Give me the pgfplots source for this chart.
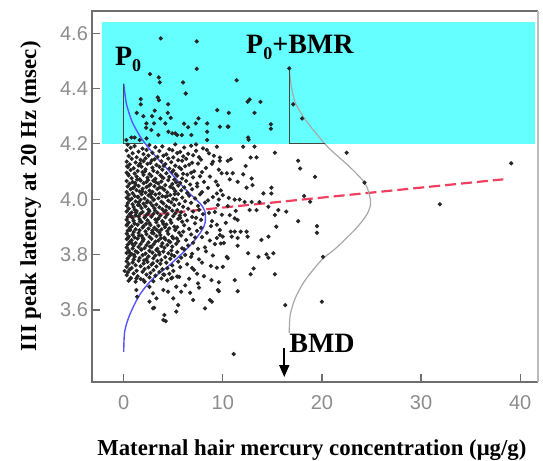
\documentclass[border=0pt]{standalone}
\usepackage{fontspec}
\setmainfont{Liberation Serif}
\newfontfamily\arialfont{Liberation Sans}
\usepackage{pgfplots}
\pgfplotsset{compat=1.18}
\usetikzlibrary{arrows.meta}
\definecolor{cyanbox}{HTML}{66FFFF}
\definecolor{blueline}{RGB}{85,85,255}
\definecolor{redline}{HTML}{F04060}
\definecolor{grayline}{HTML}{A8A8A8}
\definecolor{triline}{HTML}{404840}
\definecolor{framegray}{HTML}{6E6E6E}
\definecolor{framelight}{HTML}{BBBBBB}
\definecolor{labgray}{HTML}{8C8C8C}
\newcommand\sub[1]{\raisebox{-3pt}{\fontsize{9}{9}\selectfont #1}}

\begin{document}
\begin{tikzpicture}
\begin{axis}[
  at={(46pt,39.5pt)}, anchor=south west,
  scale only axis, width=223pt, height=185.5pt,
  xmin=-3.2, xmax=41.8, ymin=3.34, ymax=4.68,
  clip=false,
  axis line style={draw=none},
  tick align=inside,
  xtick pos=left, ytick pos=left,
  xtick={0,10,20,30,40}, xticklabels={0,10,20,30,40},
  ytick={3.6,3.8,4.0,4.2,4.4,4.6}, yticklabels={3.6,3.8,4.0,4.2,4.4,4.6},
  major tick length=4pt,
  tick style={draw=framegray, line width=0.6pt},
  ticklabel style={font=\arialfont\fontsize{10}{12}\selectfont, text=labgray},
  xticklabel style={yshift=-3pt},
  yticklabel style={xshift=1.5pt},
  xlabel={Maternal hair mercury concentration (μg/g)},
  ylabel={III peak latency at 20 Hz (msec)},
  label style={font=\bfseries\fontsize{11.4}{13}\selectfont},
  xlabel style={at={(axis description cs:0.493,-0.1968)}, anchor=base},
  ylabel style={at={(axis description cs:-0.125,0.5)}, anchor=base},
]
% cyan band above 4.2
\addplot[fill=cyanbox, draw=none] coordinates {(-2.2,4.2)(41.5,4.2)(41.5,4.64)(-2.2,4.64)(-2.2,4.2)};

% scatter: dense cluster
\addplot[only marks, mark=*, mark size=0.85pt, black!85] coordinates {
(0.4,4.197)(1.1,4.192)(2.6,4.196)(3.9,4.191)(5.2,4.198)(6.8,4.193)
(0.7,4.186)(1.9,4.183)(3.2,4.188)(4.6,4.181)(6.1,4.187)(8.0,4.184)
(0.3,4.176)(1.5,4.172)(2.3,4.178)(3.6,4.174)(4.9,4.177)(5.7,4.171)(7.3,4.175)
(0.9,4.166)(2.0,4.163)(2.9,4.168)(4.3,4.162)(5.4,4.167)(6.5,4.164)(8.6,4.166)
(0.5,4.156)(1.3,4.152)(2.5,4.158)(3.4,4.153)(4.0,4.157)(5.0,4.151)(6.0,4.155)(7.0,4.159)
(0.8,4.146)(1.7,4.142)(2.2,4.148)(3.1,4.144)(4.5,4.147)(5.5,4.141)(6.3,4.146)(7.8,4.143)
(0.3,4.136)(1.2,4.133)(2.0,4.138)(2.7,4.131)(3.8,4.137)(4.8,4.134)(5.9,4.139)(6.9,4.132)(9.0,4.136)
(0.6,4.126)(1.5,4.122)(2.4,4.128)(3.3,4.124)(4.2,4.127)(5.2,4.121)(6.6,4.125)(7.5,4.129)
(0.4,4.116)(1.0,4.112)(1.8,4.118)(2.9,4.114)(3.6,4.117)(4.6,4.111)(5.6,4.115)(6.2,4.119)(8.3,4.113)
(0.7,4.106)(1.4,4.102)(2.2,4.108)(3.0,4.103)(3.9,4.107)(5.0,4.104)(5.8,4.109)(7.1,4.101)
(0.3,4.096)(1.1,4.093)(1.9,4.098)(2.6,4.091)(3.4,4.097)(4.3,4.094)(4.9,4.099)(6.0,4.092)(6.8,4.096)
(0.5,4.086)(1.3,4.082)(2.0,4.088)(2.8,4.084)(3.7,4.087)(4.6,4.081)(5.4,4.085)(6.4,4.089)(7.7,4.083)
(0.8,4.076)(1.6,4.072)(2.4,4.078)(3.2,4.074)(4.0,4.077)(5.1,4.071)(5.9,4.075)(7.0,4.079)
(0.3,4.066)(0.9,4.062)(1.7,4.068)(2.3,4.063)(3.0,4.067)(3.8,4.064)(4.5,4.069)(5.3,4.061)(6.3,4.066)(8.1,4.063)
(0.6,4.056)(1.2,4.052)(2.0,4.058)(2.7,4.054)(3.5,4.057)(4.2,4.051)(4.9,4.055)(5.7,4.059)(6.7,4.053)
(0.4,4.046)(1.0,4.042)(1.5,4.048)(2.3,4.044)(3.1,4.047)(3.9,4.041)(4.7,4.045)(5.5,4.049)(6.1,4.043)(7.4,4.046)
(0.7,4.036)(1.3,4.033)(1.9,4.038)(2.6,4.031)(3.4,4.037)(4.1,4.034)(5.0,4.039)(5.8,4.032)(6.9,4.036)
(0.3,4.026)(0.9,4.022)(1.6,4.028)(2.2,4.024)(2.9,4.027)(3.6,4.021)(4.4,4.025)(5.2,4.029)(6.4,4.023)(7.9,4.026)
(0.5,4.016)(1.1,4.012)(1.8,4.018)(2.5,4.014)(3.2,4.017)(3.9,4.011)(4.7,4.015)(5.5,4.019)(6.6,4.013)
(0.3,4.006)(0.8,4.002)(1.4,4.008)(2.1,4.003)(2.8,4.007)(3.5,4.004)(4.2,4.009)(5.0,4.001)(5.9,4.006)(7.2,4.003)
(0.6,3.996)(1.2,3.992)(1.7,3.998)(2.4,3.994)(3.0,3.997)(3.8,3.991)(4.5,3.995)(5.3,3.999)(6.2,3.993)(8.5,3.996)
(0.4,3.986)(0.9,3.982)(1.5,3.988)(2.0,3.984)(2.7,3.987)(3.3,3.981)(4.0,3.985)(4.8,3.989)(5.6,3.983)(6.8,3.987)
(0.3,3.976)(1.0,3.972)(1.6,3.978)(2.2,3.974)(2.9,3.977)(3.6,3.971)(4.3,3.975)(5.1,3.979)(6.0,3.973)(7.5,3.976)
(0.5,3.966)(1.1,3.962)(1.8,3.968)(2.5,3.963)(3.1,3.967)(3.9,3.964)(4.6,3.969)(5.4,3.961)(6.5,3.966)
(0.3,3.956)(0.8,3.952)(1.3,3.958)(1.9,3.954)(2.6,3.957)(3.4,3.951)(4.1,3.955)(4.9,3.959)(5.8,3.953)(7.0,3.956)(9.2,3.954)
(0.6,3.946)(1.2,3.942)(1.7,3.948)(2.3,3.944)(3.0,3.947)(3.7,3.941)(4.4,3.945)(5.2,3.949)(6.2,3.943)(8.0,3.946)
(0.4,3.936)(0.9,3.932)(1.5,3.938)(2.1,3.934)(2.8,3.937)(3.5,3.931)(4.2,3.935)(5.0,3.939)(5.7,3.933)(6.9,3.936)
(0.3,3.926)(1.0,3.922)(1.6,3.928)(2.4,3.924)(3.2,3.927)(3.9,3.921)(4.7,3.925)(5.5,3.929)(6.4,3.923)(7.8,3.926)
(0.5,3.916)(1.1,3.912)(1.8,3.918)(2.6,3.914)(3.3,3.917)(4.0,3.911)(4.8,3.915)(5.9,3.919)(7.2,3.913)
(0.3,3.906)(0.8,3.902)(1.4,3.908)(2.0,3.903)(2.7,3.907)(3.5,3.904)(4.3,3.909)(5.1,3.901)(6.1,3.906)(8.8,3.903)
(0.6,3.896)(1.2,3.892)(1.9,3.898)(2.5,3.894)(3.1,3.897)(3.8,3.891)(4.6,3.895)(5.4,3.899)(6.6,3.893)
(0.4,3.886)(1.0,3.882)(1.6,3.888)(2.2,3.884)(2.9,3.887)(3.6,3.881)(4.4,3.885)(5.2,3.889)(6.0,3.883)(7.4,3.886)
(0.3,3.876)(0.9,3.872)(1.5,3.878)(2.3,3.874)(3.0,3.877)(3.7,3.871)(4.5,3.875)(5.6,3.879)(6.8,3.873)
(0.5,3.866)(1.1,3.862)(1.8,3.868)(2.6,3.864)(3.3,3.867)(4.1,3.861)(4.9,3.865)(5.8,3.869)(7.9,3.863)
(0.3,3.856)(0.8,3.852)(1.4,3.858)(2.0,3.854)(2.8,3.857)(3.5,3.851)(4.2,3.855)(5.0,3.859)(6.3,3.853)
(0.6,3.846)(1.2,3.842)(1.9,3.848)(2.5,3.844)(3.2,3.847)(3.9,3.841)(4.7,3.845)(5.5,3.849)(7.0,3.843)
(0.4,3.836)(1.0,3.832)(1.7,3.838)(2.3,3.834)(3.0,3.837)(3.8,3.831)(4.4,3.835)(5.3,3.839)(6.5,3.833)
(0.3,3.826)(0.9,3.822)(1.5,3.828)(2.1,3.824)(2.8,3.827)(3.4,3.821)(4.1,3.825)(4.9,3.829)(5.9,3.823)(8.2,3.826)
(0.5,3.816)(1.2,3.812)(1.8,3.818)(2.6,3.814)(3.3,3.817)(4.0,3.811)(4.8,3.815)(6.1,3.819)
(0.3,3.806)(0.8,3.802)(1.4,3.808)(2.2,3.804)(2.9,3.807)(3.6,3.801)(4.5,3.805)(5.4,3.809)(6.9,3.803)
(0.6,3.796)(1.1,3.792)(1.9,3.798)(2.5,3.794)(3.2,3.797)(4.2,3.791)(5.1,3.795)(6.2,3.799)
(0.4,3.786)(1.0,3.782)(1.6,3.788)(2.3,3.784)(3.0,3.787)(3.8,3.781)(4.7,3.785)(5.8,3.789)(7.6,3.783)
(0.3,3.776)(0.9,3.772)(1.5,3.778)(2.4,3.774)(3.4,3.777)(4.3,3.771)(5.5,3.775)
(0.5,3.766)(1.2,3.762)(2.0,3.768)(2.8,3.764)(3.7,3.767)(4.9,3.761)(6.4,3.765)
(0.3,3.756)(0.8,3.752)(1.7,3.758)(2.5,3.754)(3.3,3.757)(4.4,3.751)(5.7,3.755)
(0.6,3.746)(1.3,3.742)(2.1,3.748)(3.0,3.744)(3.9,3.747)(5.0,3.741)(7.1,3.745)
(0.4,3.736)(1.0,3.732)(1.9,3.738)(2.7,3.734)(3.6,3.737)(4.6,3.731)
(0.3,3.726)(1.4,3.722)(2.3,3.728)(3.2,3.724)(4.1,3.727)(5.4,3.721)
(0.7,3.716)(1.7,3.712)(2.6,3.718)(3.8,3.714)(4.9,3.717)(6.6,3.713)
(0.5,3.706)(1.2,3.702)(2.0,3.708)(3.0,3.704)(4.4,3.707)
(0.45,4.091)(1.35,4.071)(2.15,4.101)(3.25,4.061)(0.95,4.041)(1.85,4.029)(2.75,4.019)(3.65,4.043)(4.35,4.011)
(0.55,3.999)(1.45,3.979)(2.35,3.989)(3.15,3.959)(0.75,3.939)(1.65,3.919)(2.45,3.949)(3.45,3.929)(4.15,3.899)
(0.65,3.889)(1.55,3.869)(2.85,3.879)(3.75,3.859)(0.85,3.839)(1.75,3.819)(2.65,3.829)(3.55,3.809)(4.55,3.849)
(1.05,3.799)(2.05,3.779)(2.95,3.769)(0.35,3.909)(0.45,3.861)(1.25,3.951)(2.25,3.911)(3.35,3.889)(4.25,3.959)
(1.15,4.059)(2.55,4.049)(3.85,4.081)(0.35,4.119)(1.65,4.129)(2.85,4.141)(4.05,4.121)(5.25,4.091)(5.65,3.941)
(5.35,3.859)(4.85,3.799)(5.15,4.019)(0.55,3.809)(1.95,3.859)(3.95,3.919)(1.45,4.009)(2.45,4.069)(3.05,3.999)
};
% scatter: fringe and outliers
\addplot[only marks, mark=*, mark size=0.85pt, black!85] coordinates {
(7.3,4.198)(8.4,4.178)(9.1,4.157)(7.6,4.152)(8.9,4.128)(9.6,4.107)(7.9,4.098)(8.7,4.082)
(9.3,4.064)(7.4,4.057)(8.5,4.041)(9.8,4.032)(7.7,4.018)(9.0,4.008)(8.2,3.988)(9.5,3.979)
(7.6,3.962)(8.6,3.951)(9.9,3.944)(7.3,3.933)(8.9,3.921)(9.4,3.908)(7.8,3.897)(8.4,3.879)
(9.7,3.871)(7.2,3.862)(8.7,3.851)(9.2,3.838)(7.5,3.821)(8.3,3.812)(9.0,3.797)(6.8,3.792)
(7.9,3.771)(8.8,3.759)(6.9,3.752)(7.4,3.731)(8.1,3.722)(6.2,3.689)(7.6,3.681)(6.7,3.662)
(10.3,3.915)(10.1,3.842)(10.6,4.005)(10.8,4.145)(11.3,3.958)
(3.74,4.581)(7.37,4.570)(7.37,4.471)(2.66,4.452)(3.54,4.440)(3.64,4.422)(5.99,4.422)
(6.26,4.382)(1.72,4.362)(3.43,4.368)(3.55,4.358)(4.48,4.343)(1.72,4.343)(1.31,4.312)
(3.13,4.320)(4.44,4.312)(1.99,4.300)(2.86,4.300)(3.70,4.292)(4.75,4.294)(7.54,4.292)
(9.43,4.322)(10.6,4.312)(2.29,4.274)(3.06,4.274)(4.20,4.274)(6.09,4.273)(7.27,4.274)
(6.50,4.260)(8.42,4.274)(9.70,4.262)(10.55,4.262)(2.26,4.258)(2.79,4.250)(4.51,4.244)
(3.50,4.232)(5.39,4.232)(5.86,4.232)(6.83,4.232)(8.42,4.244)(8.42,4.214)(0.27,4.214)
(0.77,4.223)(1.10,4.223)(1.60,4.214)(2.30,4.220)(4.9,4.238)(5.2,4.238)(11.4,4.430)
(12.7,4.360)(12.5,4.352)(13.8,4.352)(13.2,4.312)(14.85,4.271)(14.85,4.255)(12.56,4.223)
(12.6,4.215)(16.7,4.473)(17.1,4.343)(18.0,4.292)(10.5,4.262)
(9.4,4.190)(12.05,4.190)(13.2,4.190)(15.25,4.168)(12.8,4.151)(13.4,4.151)(9.7,4.151)
(9.7,4.139)(10.5,4.139)(12.3,4.120)(17.6,4.139)(17.8,4.111)(19.3,4.081)(9.87,4.094)
(10.4,4.094)(11.0,4.094)(12.05,4.090)(10.7,4.072)(11.5,4.063)(9.5,4.051)(12.4,4.042)
(14.9,4.042)(14.9,4.021)(14.1,4.021)(18.2,4.012)(18.8,3.991)(9.4,4.021)(10.0,4.015)
(11.2,3.999)(11.7,3.999)(12.2,3.990)(12.9,3.990)(13.7,3.990)(10.5,3.975)(9.6,3.999)
(12.7,3.961)(13.4,3.961)(14.6,3.973)(15.6,3.961)(16.4,3.955)(10.7,3.943)(11.2,3.931)
(11.5,3.925)(15.25,3.943)(17.6,3.921)(15.4,3.901)(19.5,3.903)(19.5,3.879)(9.7,3.889)
(10.8,3.883)(11.2,3.883)(11.8,3.883)(12.4,3.883)(10.0,3.865)(10.9,3.865)(11.5,3.860)
(12.5,3.865)(13.9,3.853)(14.6,3.865)(9.4,3.860)(9.8,3.840)(22.5,4.168)(24.3,4.060)
(39.1,4.130)(31.9,3.982)(13.0,4.051)(12.9,4.075)
(11.5,3.832)(12.56,3.805)(13.6,3.792)(14.4,3.801)(14.6,3.789)(15.1,3.805)(20.1,3.792)
(10.5,3.787)(10.4,3.792)(13.1,3.750)(12.8,3.729)(15.25,3.729)(10.0,3.756)(9.4,3.753)
(11.2,3.708)(9.6,3.700)(9.6,3.668)(11.5,3.668)(16.3,3.618)(20.0,3.630)(11.1,3.441)
(0.1,3.741)(0.7,3.714)(1.28,3.714)(1.28,3.672)(1.35,3.648)(2.1,3.702)(2.6,3.684)
(2.6,3.630)(3.07,3.608)(4.1,3.582)(4.24,3.560)(2.96,3.660)(3.3,3.642)(4.0,3.672)
(4.47,3.666)(5.5,3.618)(5.3,3.594)(5.0,3.642)(5.8,3.666)(5.3,3.684)(7.5,3.696)
(8.2,3.606)(8.7,3.636)(8.86,3.708)(7.0,3.636)(4.0,3.564)(2.96,3.606)(8.9,3.630)
(9.5,3.672)(4.0,3.728)(4.8,3.714)(5.6,3.720)
};

% regression line
\addplot[redline, line width=1.1pt, dash pattern=on 5.5pt off 2.5pt] coordinates {(0.3,3.935)(38.3,4.072)};

% response distribution at zero exposure
\addplot[blueline, line width=0.7pt, smooth] coordinates {
(0,3.449)(0.1,3.522)(0.6,3.582)(1.6,3.654)(2.96,3.714)(4.65,3.763)(6.7,3.833)(7.8,3.883)
(8.2,3.913)(8.2,3.955)(7.7,3.985)(6.3,4.033)(4.5,4.105)(3.1,4.160)(1.9,4.214)(1.28,4.25)
(0.78,4.286)(0.27,4.346)(0,4.418)};
% response distribution at BMD
\addplot[grayline, line width=0.6pt, smooth] coordinates {
(16.7,3.517)(16.8,3.582)(17.3,3.642)(18.2,3.702)(19.5,3.762)(20.3,3.792)(21.4,3.823)(23.4,3.893)
(24.5,3.943)(24.9,3.980)(24.8,4.015)(24.3,4.060)(22.8,4.117)(21.3,4.165)(20.3,4.200)(18.6,4.274)
(18.0,4.305)(17.3,4.350)(16.9,4.410)(16.7,4.473)};

\addplot[triline, line width=0.6pt] coordinates {(0,4.418)(0,4.2)(1.95,4.2)};
\addplot[triline, line width=0.6pt] coordinates {(16.7,4.473)(16.7,4.2)(20.3,4.2)};

\addplot[black, line width=0.9pt, -{Triangle[length=6pt,width=5pt]}] coordinates {(16.2,3.463)(16.2,3.358)};

\node[anchor=base west, inner sep=0, font=\bfseries\fontsize{14}{14}\selectfont] at (axis cs:-0.91,4.4845) {P\sub{0}};
\node[anchor=base west, inner sep=0, font=\bfseries\fontsize{14}{14}\selectfont] at (axis cs:12.32,4.528) {P\sub{0}+BMR};
\node[anchor=base west, inner sep=0, font=\bfseries\fontsize{14}{14}\selectfont] at (axis cs:16.67,3.448) {BMD};

% frame
\draw[framegray, line width=1pt] (rel axis cs:1,1) -- (rel axis cs:0,1) -- (rel axis cs:0,0) -- (rel axis cs:1,0);
\draw[framelight, line width=0.8pt] (rel axis cs:1,0) -- (rel axis cs:1,1);
\end{axis}
\pgfresetboundingbox
\useasboundingbox (0,0) rectangle (271.5pt,230.5pt);
\end{tikzpicture}
\end{document}
